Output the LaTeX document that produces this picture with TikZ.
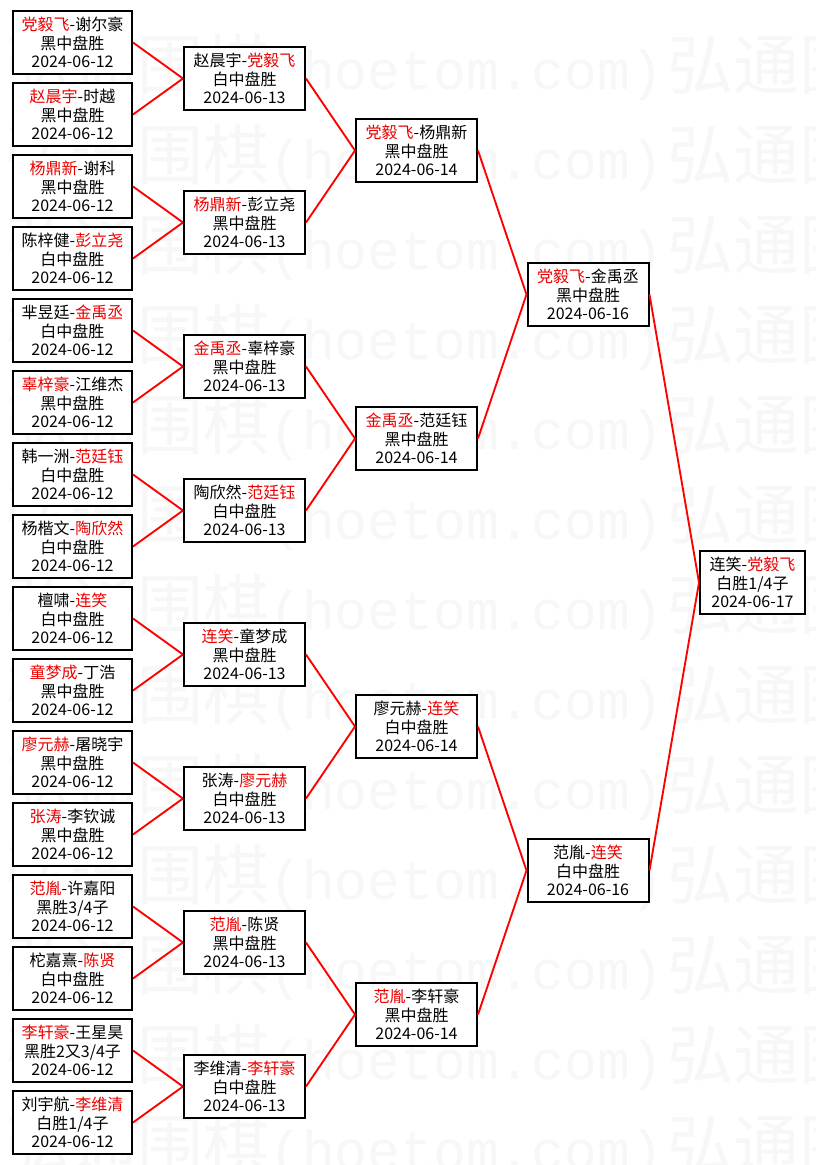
\documentclass[tikz,border=0pt]{standalone}
\usepackage{fontspec}
\setmainfont{Noto Sans CJK SC}
\newfontfamily\wmcjk{Noto Sans CJK SC}
\newfontfamily\wmmono{Liberation Mono}
\definecolor{wmgray}{gray}{0.968}
\definecolor{namered}{RGB}{235,0,0}
\newcommand\redname[1]{\textcolor{namered}{#1}}
\begin{document}
\begin{tikzpicture}[x=0.75pt,y=-0.75pt,
  box/.style={draw=black, line width=1.5pt, fill=white, align=center, inner sep=0pt,
    minimum height=47.25pt, font=\fontsize{12pt}{13.7pt}\selectfont},
  cone/.style={box, minimum width=89.25pt},
  cmid/.style={box, minimum width=90.75pt},
  cfin/.style={box, minimum width=78.75pt},
  conn/.style={draw=red, line width=1.4pt},
  wm/.style={text=wmgray, inner sep=0pt, anchor=base west}]
\useasboundingbox (0,0) rectangle (816,1165);
\fill[white] (0,0) rectangle (816,1165);
% watermark
\foreach \k in {0,...,12}{
  \node[wm, name=wma\k] at (5,{89+90*\k}) {\fontsize{49.5pt}{50pt}\wmcjk 弘通围棋\fontsize{41pt}{50pt}\wmmono (hoetom.com)};
  \node[wm, name=wmb\k] at (667,{89+90*\k}) {\fontsize{49.5pt}{50pt}\wmcjk 弘通围棋\fontsize{41pt}{50pt}\wmmono (hoetom.com)};
}
% round 1
\node[cone] (a0) at (72.5,42.5) {\redname{党毅飞}-谢尔豪\\黑中盘胜\\2024-06-12};
\node[cone] (a1) at (72.5,114.5) {\redname{赵晨宇}-时越\\黑中盘胜\\2024-06-12};
\node[cone] (a2) at (72.5,186.5) {\redname{杨鼎新}-谢科\\黑中盘胜\\2024-06-12};
\node[cone] (a3) at (72.5,258.5) {陈梓健-\redname{彭立尧}\\白中盘胜\\2024-06-12};
\node[cone] (a4) at (72.5,330.5) {芈昱廷-\redname{金禹丞}\\白中盘胜\\2024-06-12};
\node[cone] (a5) at (72.5,402.5) {\redname{辜梓豪}-江维杰\\黑中盘胜\\2024-06-12};
\node[cone] (a6) at (72.5,474.5) {韩一洲-\redname{范廷钰}\\白中盘胜\\2024-06-12};
\node[cone] (a7) at (72.5,546.5) {杨楷文-\redname{陶欣然}\\白中盘胜\\2024-06-12};
\node[cone] (a8) at (72.5,618.5) {檀啸-\redname{连笑}\\白中盘胜\\2024-06-12};
\node[cone] (a9) at (72.5,690.5) {\redname{童梦成}-丁浩\\黑中盘胜\\2024-06-12};
\node[cone] (a10) at (72.5,762.5) {\redname{廖元赫}-屠晓宇\\黑中盘胜\\2024-06-12};
\node[cone] (a11) at (72.5,834.5) {\redname{张涛}-李钦诚\\黑中盘胜\\2024-06-12};
\node[cone] (a12) at (72.5,906.5) {\redname{范胤}-许嘉阳\\黑胜3/4子\\2024-06-12};
\node[cone] (a13) at (72.5,978.5) {柁嘉熹-\redname{陈贤}\\白中盘胜\\2024-06-12};
\node[cone] (a14) at (72.5,1050.5) {\redname{李轩豪}-王星昊\\黑胜2又3/4子\\2024-06-12};
\node[cone] (a15) at (72.5,1122.5) {刘宇航-\redname{李维清}\\白胜1/4子\\2024-06-12};
% round 2
\node[cmid] (b0) at (244.5,78.5) {赵晨宇-\redname{党毅飞}\\白中盘胜\\2024-06-13};
\node[cmid] (b1) at (244.5,222.5) {\redname{杨鼎新}-彭立尧\\黑中盘胜\\2024-06-13};
\node[cmid] (b2) at (244.5,366.5) {\redname{金禹丞}-辜梓豪\\黑中盘胜\\2024-06-13};
\node[cmid] (b3) at (244.5,510.5) {陶欣然-\redname{范廷钰}\\白中盘胜\\2024-06-13};
\node[cmid] (b4) at (244.5,654.5) {\redname{连笑}-童梦成\\黑中盘胜\\2024-06-13};
\node[cmid] (b5) at (244.5,798.5) {张涛-\redname{廖元赫}\\白中盘胜\\2024-06-13};
\node[cmid] (b6) at (244.5,942.5) {\redname{范胤}-陈贤\\黑中盘胜\\2024-06-13};
\node[cmid] (b7) at (244.5,1086.5) {李维清-\redname{李轩豪}\\白中盘胜\\2024-06-13};
% round 3
\node[cmid] (c0) at (416.5,150.5) {\redname{党毅飞}-杨鼎新\\黑中盘胜\\2024-06-14};
\node[cmid] (c1) at (416.5,438.5) {\redname{金禹丞}-范廷钰\\黑中盘胜\\2024-06-14};
\node[cmid] (c2) at (416.5,726.5) {廖元赫-\redname{连笑}\\白中盘胜\\2024-06-14};
\node[cmid] (c3) at (416.5,1014.5) {\redname{范胤}-李轩豪\\黑中盘胜\\2024-06-14};
% round 4
\node[cmid] (d0) at (588,294.5) {\redname{党毅飞}-金禹丞\\黑中盘胜\\2024-06-16};
\node[cmid] (d1) at (588,870.5) {范胤-\redname{连笑}\\白中盘胜\\2024-06-16};
% final
\node[cfin] (e) at (752.5,582.5) {连笑-\redname{党毅飞}\\白胜1/4子\\2024-06-17};
% connectors
\foreach \i/\j in {0/0,1/0,2/1,3/1,4/2,5/2,6/3,7/3,8/4,9/4,10/5,11/5,12/6,13/6,14/7,15/7}
  \draw[conn] (a\i.east) -- (b\j.west);
\foreach \i/\j in {0/0,1/0,2/1,3/1,4/2,5/2,6/3,7/3}
  \draw[conn] (b\i.east) -- (c\j.west);
\foreach \i/\j in {0/0,1/0,2/1,3/1}
  \draw[conn] (c\i.east) -- (d\j.west);
\draw[conn] (d0.east) -- (e.west);
\draw[conn] (d1.east) -- (e.west);
\end{tikzpicture}
\end{document}
